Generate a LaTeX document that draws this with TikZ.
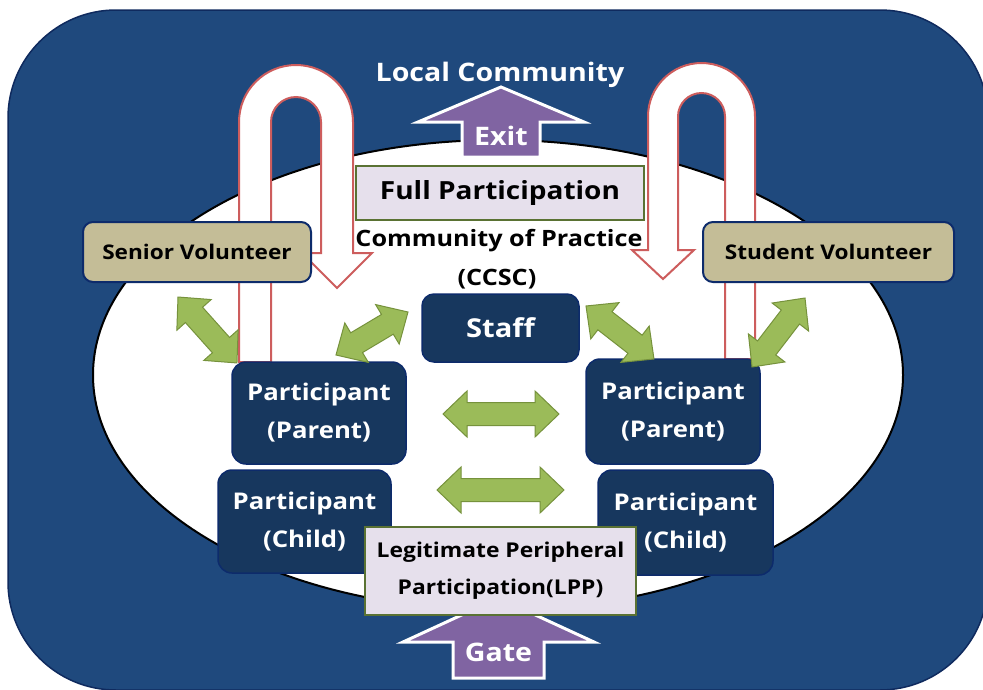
\documentclass[tikz,border=0pt]{standalone}
\usepackage{fontspec}
\setmainfont{Open Sans}[FakeStretch=1.12]
\definecolor{bgblue}{HTML}{1F497D}
\definecolor{bgborder}{HTML}{0F2A5E}
\definecolor{navyf}{HTML}{17375E}
\definecolor{navyb}{HTML}{0D2B6B}
\definecolor{tanf}{HTML}{C4BD97}
\definecolor{lilac}{HTML}{E6E0EC}
\definecolor{olivb}{HTML}{5A7233}
\definecolor{purp}{HTML}{8064A2}
\definecolor{grf}{HTML}{9BBB59}
\definecolor{grb}{HTML}{76923C}
\definecolor{redb}{HTML}{CD5D5D}
\tikzset{
  partbox/.style={draw=navyb, line width=1.5pt, fill=navyf, rounded corners=14pt,
    text=white, font=\fontsize{23}{38}\selectfont\bfseries, align=center, inner sep=0pt},
  volbox/.style={draw=navyb, line width=2pt, fill=tanf, rounded corners=10pt,
    text=black, font=\fontsize{20.2}{22}\selectfont\bfseries, inner sep=0pt},
  lilbox/.style={draw=olivb, line width=2.5pt, fill=lilac, text=black, align=center, inner sep=0pt},
  purparrow/.style={fill=purp, draw=white, line width=3pt, line join=miter},
  uturn/.style={fill=white, draw=redb, line width=2pt, line join=miter},
  dblgreen/.style={fill=grf, draw=grb, line width=1pt, line join=miter},
  whitetext/.style={text=white, font=\fontsize{25.5}{30}\selectfont\bfseries, inner sep=0pt},
  blacktext/.style={text=black, font=\fontsize{22.5}{24}\selectfont\bfseries, inner sep=0pt}
}
\newcommand\greenarrow[2]{%
  \path (#1); \pgfgetlastxy{\gax}{\gay}%
  \path (#2); \pgfgetlastxy{\gbx}{\gby}%
  \pgfmathsetmacro\gang{atan2(\gby-\gay,\gbx-\gax)}%
  \pgfmathsetmacro\glen{veclen(\gbx-\gax,\gby-\gay)}%
  \pgfmathsetmacro\gm{\glen-24}%
  \begin{scope}[shift={(#1)},rotate=\gang]
    \filldraw[dblgreen] (0pt,0pt) -- (24pt,23pt) -- (24pt,11.5pt) -- (\gm pt,11.5pt)
      -- (\gm pt,23pt) -- (\glen pt,0pt) -- (\gm pt,-23pt) -- (\gm pt,-11.5pt)
      -- (24pt,-11.5pt) -- (24pt,-23pt) -- cycle;
  \end{scope}}
\begin{document}
\begin{tikzpicture}[x=1pt,y=-1pt]
\useasboundingbox (0,0) rectangle (983,689);
\clip (0,0) rectangle (983,689);
% background
\filldraw[fill=bgblue, draw=bgborder, line width=1.5pt, rounded corners=108pt] (8,10) rectangle (988,690);
% ellipse
\filldraw[fill=white, draw=black, line width=2pt] (498,375) ellipse [x radius=405, y radius=235];
% Local community + exit
\node[whitetext] (lc) at (500,75) {Local Community};
\filldraw[purparrow] (501,87) -- (584,122) -- (540,122) -- (540,157) -- (462,157) -- (462,122) -- (418,122) -- cycle;
\node[whitetext] (exit) at (501,136) {Exit};
% full participation
\node[lilbox, minimum width=288pt, minimum height=54pt, font=\fontsize{25}{28}\selectfont\bfseries] (fp) at (500,193) {Full Participation};
\node[blacktext] (cop) at (499,241) {Community of Practice};
\node[blacktext] (ccsc) at (497,279) {(CCSC)};
% U-turn arrows
\filldraw[uturn] (239,362) -- (239,122) arc[start angle=180, end angle=360, radius=57]
  -- (353,253) -- (372,253) -- (337,288) -- (302,253) -- (321,253) -- (321,122)
  arc[start angle=0, end angle=-180, radius=25] -- (271,362) -- cycle;
\filldraw[uturn] (755,359) -- (755,116.5) arc[start angle=0, end angle=-180, radius=53.5]
  -- (648,250) -- (632,250) -- (663,279) -- (694,250) -- (678,250) -- (678,116.5)
  arc[start angle=180, end angle=360, radius=23.5] -- (725,359) -- cycle;
% volunteers
\node[volbox, minimum width=228pt, minimum height=60pt] (sen) at (197,252) {Senior Volunteer};
\node[volbox, minimum width=251pt, minimum height=60pt] (stu) at (828.5,252) {Student Volunteer};
% staff and participants
\node[partbox, rounded corners=12pt, minimum width=157pt, minimum height=68pt, font=\fontsize{26}{30}\selectfont\bfseries] (staff) at (500.5,328) {Staff};
\node[partbox, minimum width=174pt, minimum height=102pt] (pl) at (319,413) {Participant\\(Parent)};
\node[partbox, minimum width=174pt, minimum height=105pt] (pr) at (673,411.5) {Participant\\(Parent)};
\node[partbox, minimum width=173pt, minimum height=103pt] (cl) at (304.5,521.5) {Participant\\(Child)};
\node[partbox, minimum width=175pt, minimum height=105pt] (cr) at (685.5,522.5) {Participant\\(Child)};
% green arrows
\coordinate (g1a) at (178,297); \coordinate (g1b) at (237,363);
\coordinate (g2a) at (336,355); \coordinate (g2b) at (408,312);
\coordinate (g3a) at (586,306); \coordinate (g3b) at (654,359);
\coordinate (g4a) at (805,298); \coordinate (g4b) at (752,367);
\coordinate (g5a) at (443,414); \coordinate (g5b) at (559,414);
\coordinate (g6a) at (437,490); \coordinate (g6b) at (564,490);
\greenarrow{g1a}{g1b}
\greenarrow{g2a}{g2b}
\greenarrow{g3a}{g3b}
\greenarrow{g4a}{g4b}
\greenarrow{g5a}{g5b}
\greenarrow{g6a}{g6b}
% gate
\filldraw[purparrow] (498.5,598) -- (594,642) -- (544,642) -- (544,678) -- (453,678) -- (453,642) -- (403,642) -- cycle;
\node[whitetext] (gate) at (498.5,652) {Gate};
% LPP
\node[lilbox, minimum width=271pt, minimum height=88pt, font=\fontsize{20.4}{37}\selectfont\bfseries] (lpp) at (500.5,571) {Legitimate Peripheral\\Participation(LPP)};
\end{tikzpicture}
\end{document}
